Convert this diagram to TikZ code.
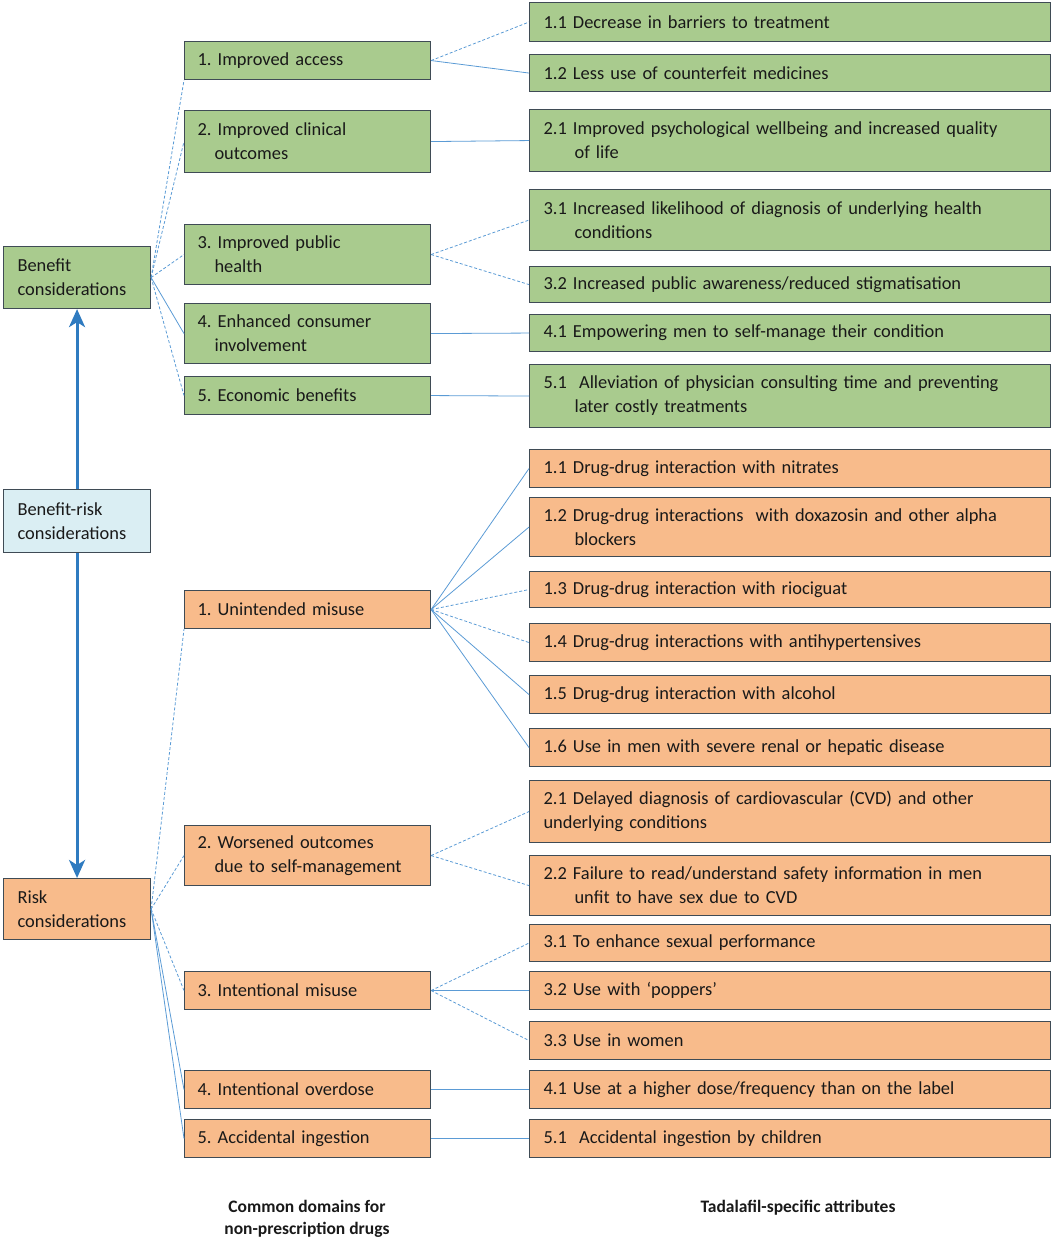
\documentclass[tikz,border=0pt]{standalone}
\usepackage{fontspec}
\setmainfont{Carlito}
\usetikzlibrary{arrows.meta}
\definecolor{gfill}{HTML}{A9CB8E}
\definecolor{ofill}{HTML}{F8BB8B}
\definecolor{bfill}{HTML}{DAEEF3}
\definecolor{bcol}{HTML}{3F4B55}
\definecolor{ccol}{HTML}{5B9BD5}
\definecolor{acol}{HTML}{2F7BC0}
\tikzset{
  basebox/.style={draw=bcol, line width=1.1pt, anchor=north west, inner ysep=0pt, align=left,
    font=\frenchspacing\fontsize{18.4}{24}\selectfont, text=black!90},
  lbox/.style={basebox, inner xsep=14pt, text width=119pt},
  mbox/.style={basebox, inner xsep=13pt, text width=220pt},
  rbox/.style={basebox, inner xsep=14pt, text width=493pt},
  cs/.style={draw=ccol, line width=0.8pt},
  cd/.style={draw=ccol, line width=0.8pt, dash pattern=on 3pt off 2pt},
  bigarrow/.style={draw=acol, line width=3pt, -{Stealth[length=18pt,width=16pt,inset=5pt]}},
  caption/.style={font=\bfseries\fontsize{17.5}{22}\selectfont, align=center, text=black!90}
}
\begin{document}
\begin{tikzpicture}[x=1pt,y=-1pt]
\useasboundingbox (0,0) rectangle (1052,1243);
% left column
\node[lbox, fill=gfill, minimum height=62pt] (ben) at (3,246) {Benefit\\considerations};
\node[lbox, fill=bfill, minimum height=63pt] (br) at (3,489) {Benefit-risk\\considerations};
\node[lbox, fill=ofill, minimum height=61pt] (risk) at (3,878) {Risk\\considerations};
% middle column - benefits
\node[mbox, fill=gfill, minimum height=38pt] (b1) at (184,41) {1. Improved access};
\node[mbox, fill=gfill, minimum height=62pt] (b2) at (184,110) {2. Improved clinical\\\hspace*{17pt}outcomes};
\node[mbox, fill=gfill, minimum height=60pt] (b3) at (184,224) {3. Improved public\\\hspace*{17pt}health};
\node[mbox, fill=gfill, minimum height=60pt] (b4) at (184,303) {4. Enhanced consumer\\\hspace*{17pt}involvement};
\node[mbox, fill=gfill, minimum height=38pt] (b5) at (184,376) {5. Economic benefits};
% middle column - risks
\node[mbox, fill=ofill, minimum height=38pt] (r1) at (184,590) {1. Unintended misuse};
\node[mbox, fill=ofill, minimum height=60pt] (r2) at (184,825) {2. Worsened outcomes\\\hspace*{17pt}due to self-management};
\node[mbox, fill=ofill, minimum height=38pt] (r3) at (184,971) {3. Intentional misuse};
\node[mbox, fill=ofill, minimum height=38pt] (r4) at (184,1070) {4. Intentional overdose};
\node[mbox, fill=ofill, minimum height=38pt] (r5) at (184,1119) {5. Accidental ingestion};
% right column - benefits
\node[rbox, fill=gfill, minimum height=39pt] (b11) at (529,2) {1.1 Decrease in barriers to treatment};
\node[rbox, fill=gfill, minimum height=37pt] (b12) at (529,54) {1.2 Less use of counterfeit medicines};
\node[rbox, fill=gfill, minimum height=62pt] (b21) at (529,109) {2.1 Improved psychological wellbeing and increased quality\\\hspace*{31pt}of life};
\node[rbox, fill=gfill, minimum height=61pt] (b31) at (529,189) {3.1 Increased likelihood of diagnosis of underlying health\\\hspace*{31pt}conditions};
\node[rbox, fill=gfill, minimum height=36pt] (b32) at (529,266) {3.2 Increased public awareness/reduced stigmatisation};
\node[rbox, fill=gfill, minimum height=37pt] (b41) at (529,314) {4.1 Empowering men to self-manage their condition};
\node[rbox, fill=gfill, minimum height=63pt] (b51) at (529,364) {5.1\ \ Alleviation of physician consulting time and preventing\\\hspace*{31pt}later costly treatments};
% right column - risks
\node[rbox, fill=ofill, minimum height=38pt] (r11) at (529,449) {1.1 Drug-drug interaction with nitrates};
\node[rbox, fill=ofill, minimum height=59pt] (r12) at (529,497) {1.2 Drug-drug interactions\ \ with doxazosin and other alpha\\\hspace*{31pt}blockers};
\node[rbox, fill=ofill, minimum height=36pt] (r13) at (529,571) {1.3 Drug-drug interaction with riociguat};
\node[rbox, fill=ofill, minimum height=38pt] (r14) at (529,623) {1.4 Drug-drug interactions with antihypertensives};
\node[rbox, fill=ofill, minimum height=38pt] (r15) at (529,675) {1.5 Drug-drug interaction with alcohol};
\node[rbox, fill=ofill, minimum height=38pt] (r16) at (529,728) {1.6 Use in men with severe renal or hepatic disease};
\node[rbox, fill=ofill, minimum height=62pt] (r21) at (529,780) {2.1 Delayed diagnosis of cardiovascular (CVD) and other\\underlying conditions};
\node[rbox, fill=ofill, minimum height=60pt] (r22) at (529,855) {2.2 Failure to read/understand safety information in men\\\hspace*{31pt}unfit to have sex due to CVD};
\node[rbox, fill=ofill, minimum height=37pt] (r31) at (529,924) {3.1 To enhance sexual performance};
\node[rbox, fill=ofill, minimum height=38pt] (r32) at (529,971) {3.2 Use with ‘poppers’};
\node[rbox, fill=ofill, minimum height=38pt] (r33) at (529,1021) {3.3 Use in women};
\node[rbox, fill=ofill, minimum height=38pt] (r41) at (529,1070) {4.1 Use at a higher dose/frequency than on the label};
\node[rbox, fill=ofill, minimum height=38pt] (r51) at (529,1119) {5.1\ \ Accidental ingestion by children};
% captions
\node[caption] (cap1) at (307,1219) {Common domains for\\non-prescription drugs};
\node[caption] (cap2) at (798,1208) {Tadalafil-specific attributes};
% big arrows
\draw[bigarrow] (br.north) -- (ben.south);
\draw[bigarrow] (br.south) -- (risk.north);
% benefit connectors
\draw[cd] (ben.east) -- (b1.south west);
\draw[cd] (ben.east) -- (b2.west);
\draw[cd] (ben.east) -- (b3.west);
\draw[cs] (ben.east) -- (b4.west);
\draw[cd] (ben.east) -- (b5.west);
\draw[cd] (b1.east) -- (b11.west);
\draw[cs] (b1.east) -- (b12.west);
\draw[cs] (b2.east) -- (b21.west);
\draw[cd] (b3.east) -- (b31.west);
\draw[cd] (b3.east) -- (b32.west);
\draw[cs] (b4.east) -- (b41.west);
\draw[cs] (b5.east) -- (b51.west);
% risk connectors
\draw[cd] (risk.east) -- (r1.south west);
\draw[cd] (risk.east) -- (r2.west);
\draw[cd] (risk.east) -- (r3.west);
\draw[cs] (risk.east) -- (r4.west);
\draw[cs] (risk.east) -- (r5.west);
\draw[cs] (r1.east) -- (r11.west);
\draw[cs] (r1.east) -- (r12.west);
\draw[cd] (r1.east) -- (r13.west);
\draw[cd] (r1.east) -- (r14.west);
\draw[cs] (r1.east) -- (r15.west);
\draw[cs] (r1.east) -- (r16.west);
\draw[cd] (r2.east) -- (r21.west);
\draw[cd] (r2.east) -- (r22.west);
\draw[cd] (r3.east) -- (r31.west);
\draw[cs] (r3.east) -- (r32.west);
\draw[cd] (r3.east) -- (r33.west);
\draw[cs] (r4.east) -- (r41.west);
\draw[cs] (r5.east) -- (r51.west);
\end{tikzpicture}
\end{document}
